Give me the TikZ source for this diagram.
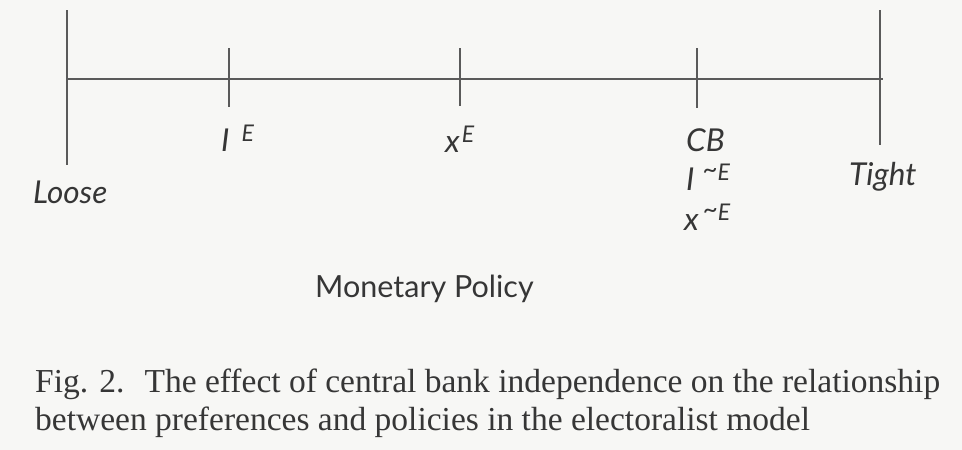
\documentclass[tikz,border=0pt]{standalone}
\usepackage{fontspec}
\setmainfont{Liberation Serif}
\newfontfamily\gill{Lato}
\definecolor{bg}{HTML}{F7F7F5}
\definecolor{ink}{HTML}{363636}
\definecolor{rule}{HTML}{5A5A5A}
\newcommand{\supE}[1]{\raisebox{10pt}{\fontsize{23}{23}\selectfont #1}}
\newcommand{\tld}{\raisebox{2pt}{\fontsize{26}{26}\selectfont\char"7E}}
\begin{document}
\begin{tikzpicture}[x=1pt,y=-1pt,
  axis/.style={draw=rule,line width=1.2pt},
  lab/.style={inner sep=0pt,anchor=base west,text=ink,font=\gill\itshape\fontsize{31.5}{31.5}\selectfont},
  sans/.style={inner sep=0pt,anchor=base west,text=ink,font=\gill\fontsize{30.5}{30.5}\selectfont},
  captext/.style={inner sep=0pt,anchor=base west,text=ink,font=\fontsize{33.5}{33.5}\selectfont}]
\fill[bg] (0,0) rectangle (962,450);
\useasboundingbox (0,0) rectangle (962,450);
% axes
\coordinate (L1) at (67,10); \coordinate (L2) at (67,165);
\coordinate (R1) at (880,10); \coordinate (R2) at (880,145);
\coordinate (H1) at (67,79); \coordinate (H2) at (883,79);
\coordinate (T1a) at (229,48); \coordinate (T1b) at (229,107);
\coordinate (T2a) at (460,48); \coordinate (T2b) at (460,106);
\coordinate (T3a) at (697,48); \coordinate (T3b) at (697,108);
\draw[axis] (L1) -- (L2);
\draw[axis] (R1) -- (R2);
\draw[axis] (H1) -- (H2);
\draw[axis] (T1a) -- (T1b);
\draw[axis] (T2a) -- (T2b);
\draw[axis] (T3a) -- (T3b);
% labels
\node[lab] (loose) at (33,203) {Loose};
\node[lab] (tight) at (849,185) {Tight};
\node[lab] (ie) at (221,151) {I\hspace{12pt}\supE{E}};
\node[lab] (xe) at (445,152) {x\hspace{2pt}\supE{E}};
\node[lab] (cb) at (686,151) {CB};
\node[lab] (ine) at (686,190) {I\hspace{8pt}\supE{\tld E}};
\node[lab] (xne) at (684,230) {x\hspace{4pt}\supE{\tld E}};
\node[sans] (mp) at (315,297) {Monetary Policy};
\node[captext] (c1) at (35,392) {Fig. 2.\hspace{20pt}The effect of central bank independence on the relationship};
\node[captext] (c2) at (35,430) {between preferences and policies in the electoralist model};
\end{tikzpicture}
\end{document}
